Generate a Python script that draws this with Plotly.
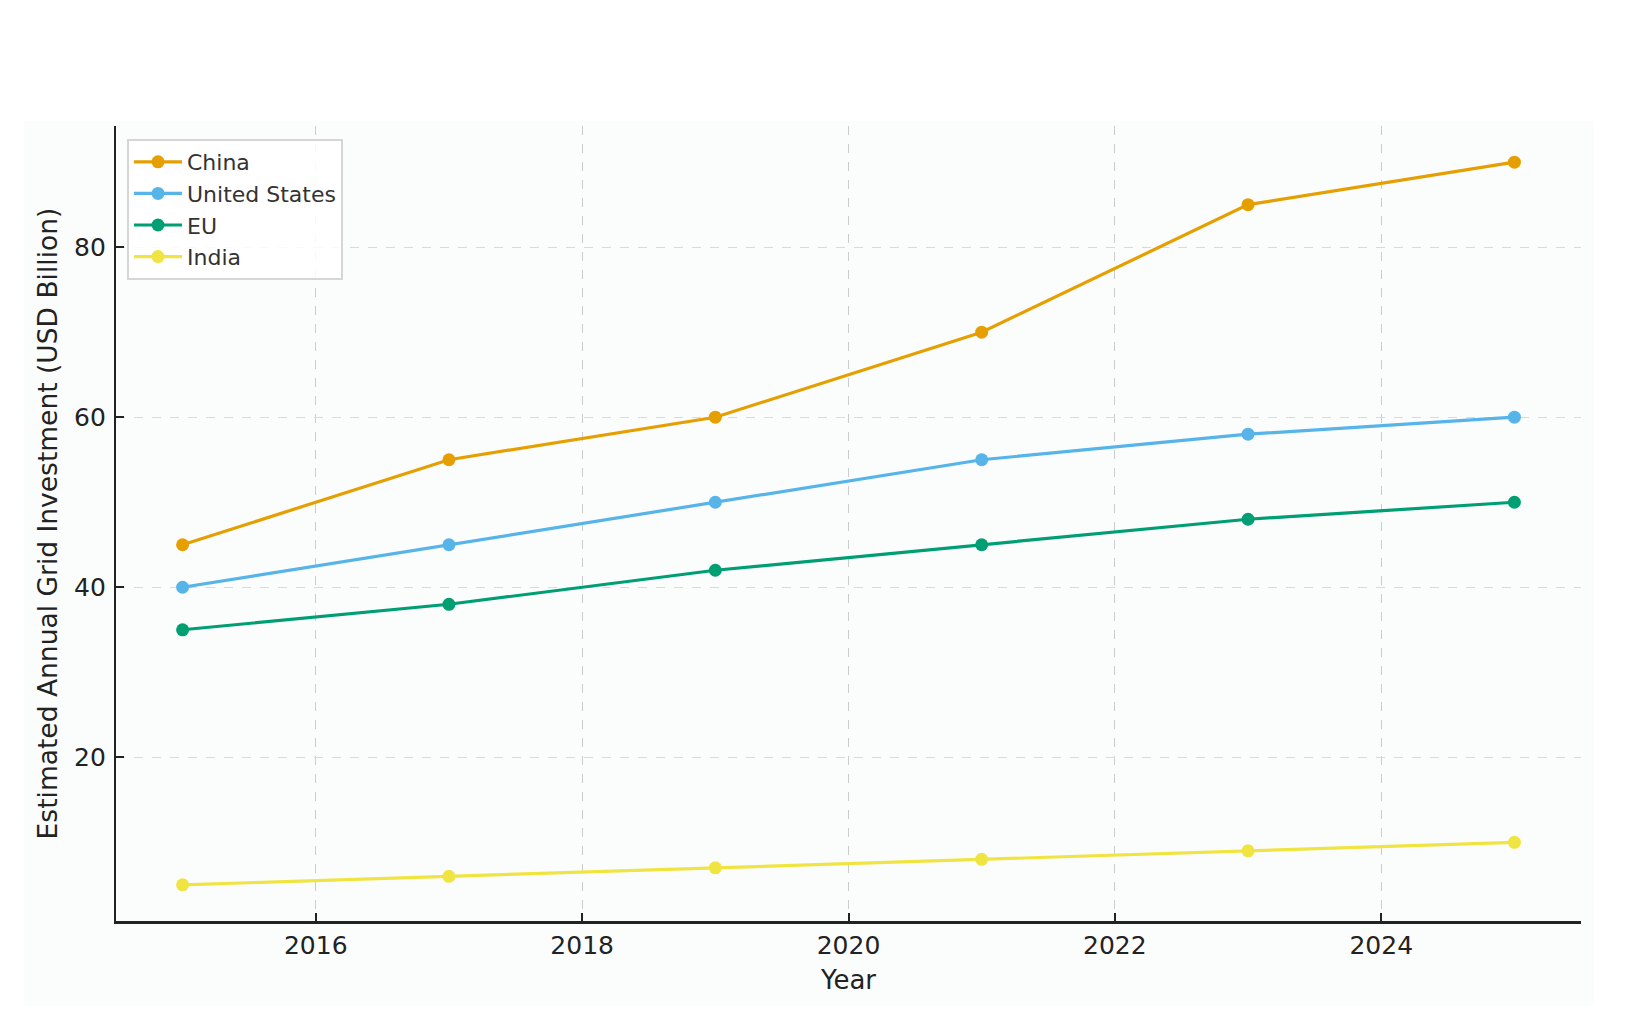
import plotly.graph_objects as go

years = [2015, 2017, 2019, 2021, 2023, 2025]
china = [45, 55, 60, 70, 85, 90]
united_states = [40, 45, 50, 55, 58, 60]
eu = [35, 38, 42, 45, 48, 50]
india = [5, 6, 7, 8, 9, 10]
x_ticks = [2016, 2018, 2020, 2022, 2024]
y_ticks = [20, 40, 60, 80]

series = [
    ("China", china, "#E69F00"),
    ("United States", united_states, "#56B4E9"),
    ("EU", eu, "#009E73"),
    ("India", india, "#F0E442"),
]

fig = go.Figure()
for name, vals, color in series:
    fig.add_trace(go.Scatter(
        x=years, y=vals, name=name, mode="lines+markers",
        line=dict(color=color, width=3.2),
        marker=dict(color=color, size=13),
    ))

font = "DejaVu Sans, sans-serif"
W, H = 1652, 1018
L, R, T, B = 108, 79, 118, 105
pw, ph = W - L - R, H - T - B

fig.add_shape(
    type="rect", xref="paper", yref="paper", layer="below",
    x0=(16 - L) / pw, x1=(1586 - L) / pw,
    y0=(H - B - 998) / ph, y1=1 + (T - 113) / ph,
    fillcolor="#fbfdfd", line=dict(width=0),
)

fig.update_layout(
    width=W, height=H,
    margin=dict(l=L, r=R, t=T, b=B),
    paper_bgcolor="#ffffff",
    plot_bgcolor="rgba(0,0,0,0)",
    font=dict(family=font, size=22, color="#222222"),
    showlegend=True,
    legend=dict(
        x=(119 - L) / pw, y=1 - (131 - T) / ph, xanchor="left", yanchor="top",
        bgcolor="rgba(255,255,255,0.85)", bordercolor="#d6d6d6", borderwidth=2,
        font=dict(family=font, size=22, color="#333333"),
        tracegroupgap=0, itemwidth=48,
    ),
    xaxis=dict(
        range=[2014.5, 2025.5], tickvals=x_ticks,
        showgrid=True, gridcolor="#cccccc", griddash="dash", gridwidth=1,
        showline=True, linecolor="#222222", linewidth=2.6,
        ticks="inside", ticklen=8, tickcolor="#222222", tickwidth=1.6,
        ticklabelstandoff=0,
        tickfont=dict(size=25, color="#222222"),
        title=dict(text="Year", font=dict(size=26, color="#222222"), standoff=13),
        zeroline=False, mirror=False,
    ),
    yaxis=dict(
        range=[0.75, 94.25], tickvals=y_ticks,
        showgrid=True, gridcolor="#dadada", griddash="dash", gridwidth=1,
        showline=True, linecolor="#222222", linewidth=2.2,
        ticks="inside", ticklen=8, tickcolor="#222222", tickwidth=1.6,
        ticklabelstandoff=3,
        tickfont=dict(size=25, color="#222222"),
        title=dict(text="Estimated Annual Grid Investment (USD Billion)", font=dict(size=26.5, color="#222222"), standoff=9),
        zeroline=False, mirror=False,
    ),
)

fig.write_html("out.html")
